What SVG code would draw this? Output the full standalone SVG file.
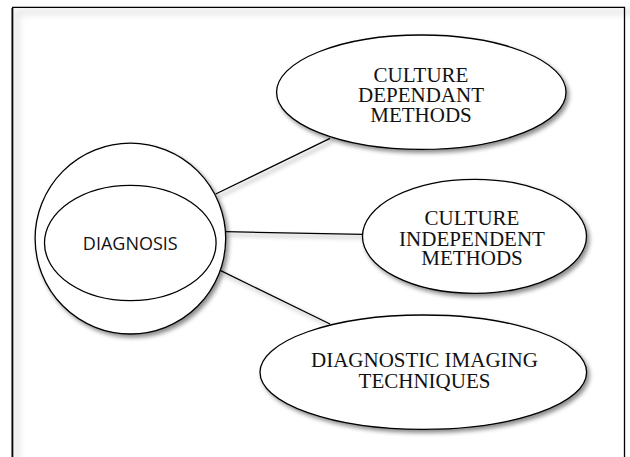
<svg xmlns="http://www.w3.org/2000/svg" width="630" height="457" viewBox="0 0 630 457">
  <defs>
    <filter id="shadow" x="-20%" y="-20%" width="150%" height="150%">
      <feDropShadow dx="2.5" dy="3" stdDeviation="2" flood-color="#000" flood-opacity="0.45"/>
    </filter>
    <filter id="soft" x="-10%" y="-10%" width="120%" height="120%">
      <feGaussianBlur stdDeviation="3"/>
    </filter>
  </defs>
  <style>
    .node { fill: #fff; stroke: #000; stroke-width: 1.3; }
    .inner { fill: none; stroke: #000; stroke-width: 1.3; }
    .conn { stroke: #000; stroke-width: 1.3; fill: none; }
    .serif { font-family: "Liberation Serif", "Times New Roman", serif; font-size: 21px; fill: #111; text-anchor: middle; }
    .sans { font-family: "Open Sans", "Liberation Sans", sans-serif; font-size: 18px; fill: #111; text-anchor: middle; }
  </style>
  <rect x="0" y="0" width="630" height="457" fill="#fff"/>
  <!-- frame with soft inner shade -->
  <g id="frame">
    <path d="M17,470 V12 H640" fill="none" stroke="#e4e4e4" stroke-width="5" filter="url(#soft)"/>
    <path d="M12.7,457 V7.3 H624.5 V457" fill="none" stroke="#000" stroke-width="1.3"/>
    <line x1="11.5" y1="8" x2="11.5" y2="457" stroke="#777" stroke-width="1"/>
  </g>
  <g id="connectors" filter="url(#shadow)">
    <line class="conn" x1="215.7" y1="194" x2="330" y2="138.3"/>
    <line class="conn" x1="225" y1="231.7" x2="362.7" y2="234.3"/>
    <line class="conn" x1="220.7" y1="270.7" x2="330" y2="324"/>
  </g>
  <g id="diagnosis">
    <ellipse class="node" cx="130.4" cy="238.6" rx="95.3" ry="95.4" filter="url(#shadow)"/>
    <ellipse class="inner" cx="130.3" cy="243" rx="85.8" ry="57.7"/>
    <text class="sans" x="130.3" y="250">DIAGNOSIS</text>
  </g>
  <g id="culture-dependant">
    <ellipse class="node" cx="421.3" cy="92.2" rx="144.7" ry="57.2" filter="url(#shadow)"/>
    <text class="serif" x="421" y="81.7">CULTURE</text>
    <text class="serif" x="421" y="102.2">DEPENDANT</text>
    <text class="serif" x="421" y="121.8">METHODS</text>
  </g>
  <g id="culture-independent">
    <ellipse class="node" cx="474.5" cy="236.3" rx="112" ry="57" filter="url(#shadow)"/>
    <text class="serif" x="472" y="225">CULTURE</text>
    <text class="serif" x="472" y="245.6">INDEPENDENT</text>
    <text class="serif" x="472" y="265.2">METHODS</text>
  </g>
  <g id="imaging">
    <ellipse class="node" cx="423.3" cy="372.2" rx="163.3" ry="57.2" filter="url(#shadow)"/>
    <text class="serif" x="424.5" y="367.3">DIAGNOSTIC IMAGING</text>
    <text class="serif" x="424.5" y="388.3">TECHNIQUES</text>
  </g>
</svg>
